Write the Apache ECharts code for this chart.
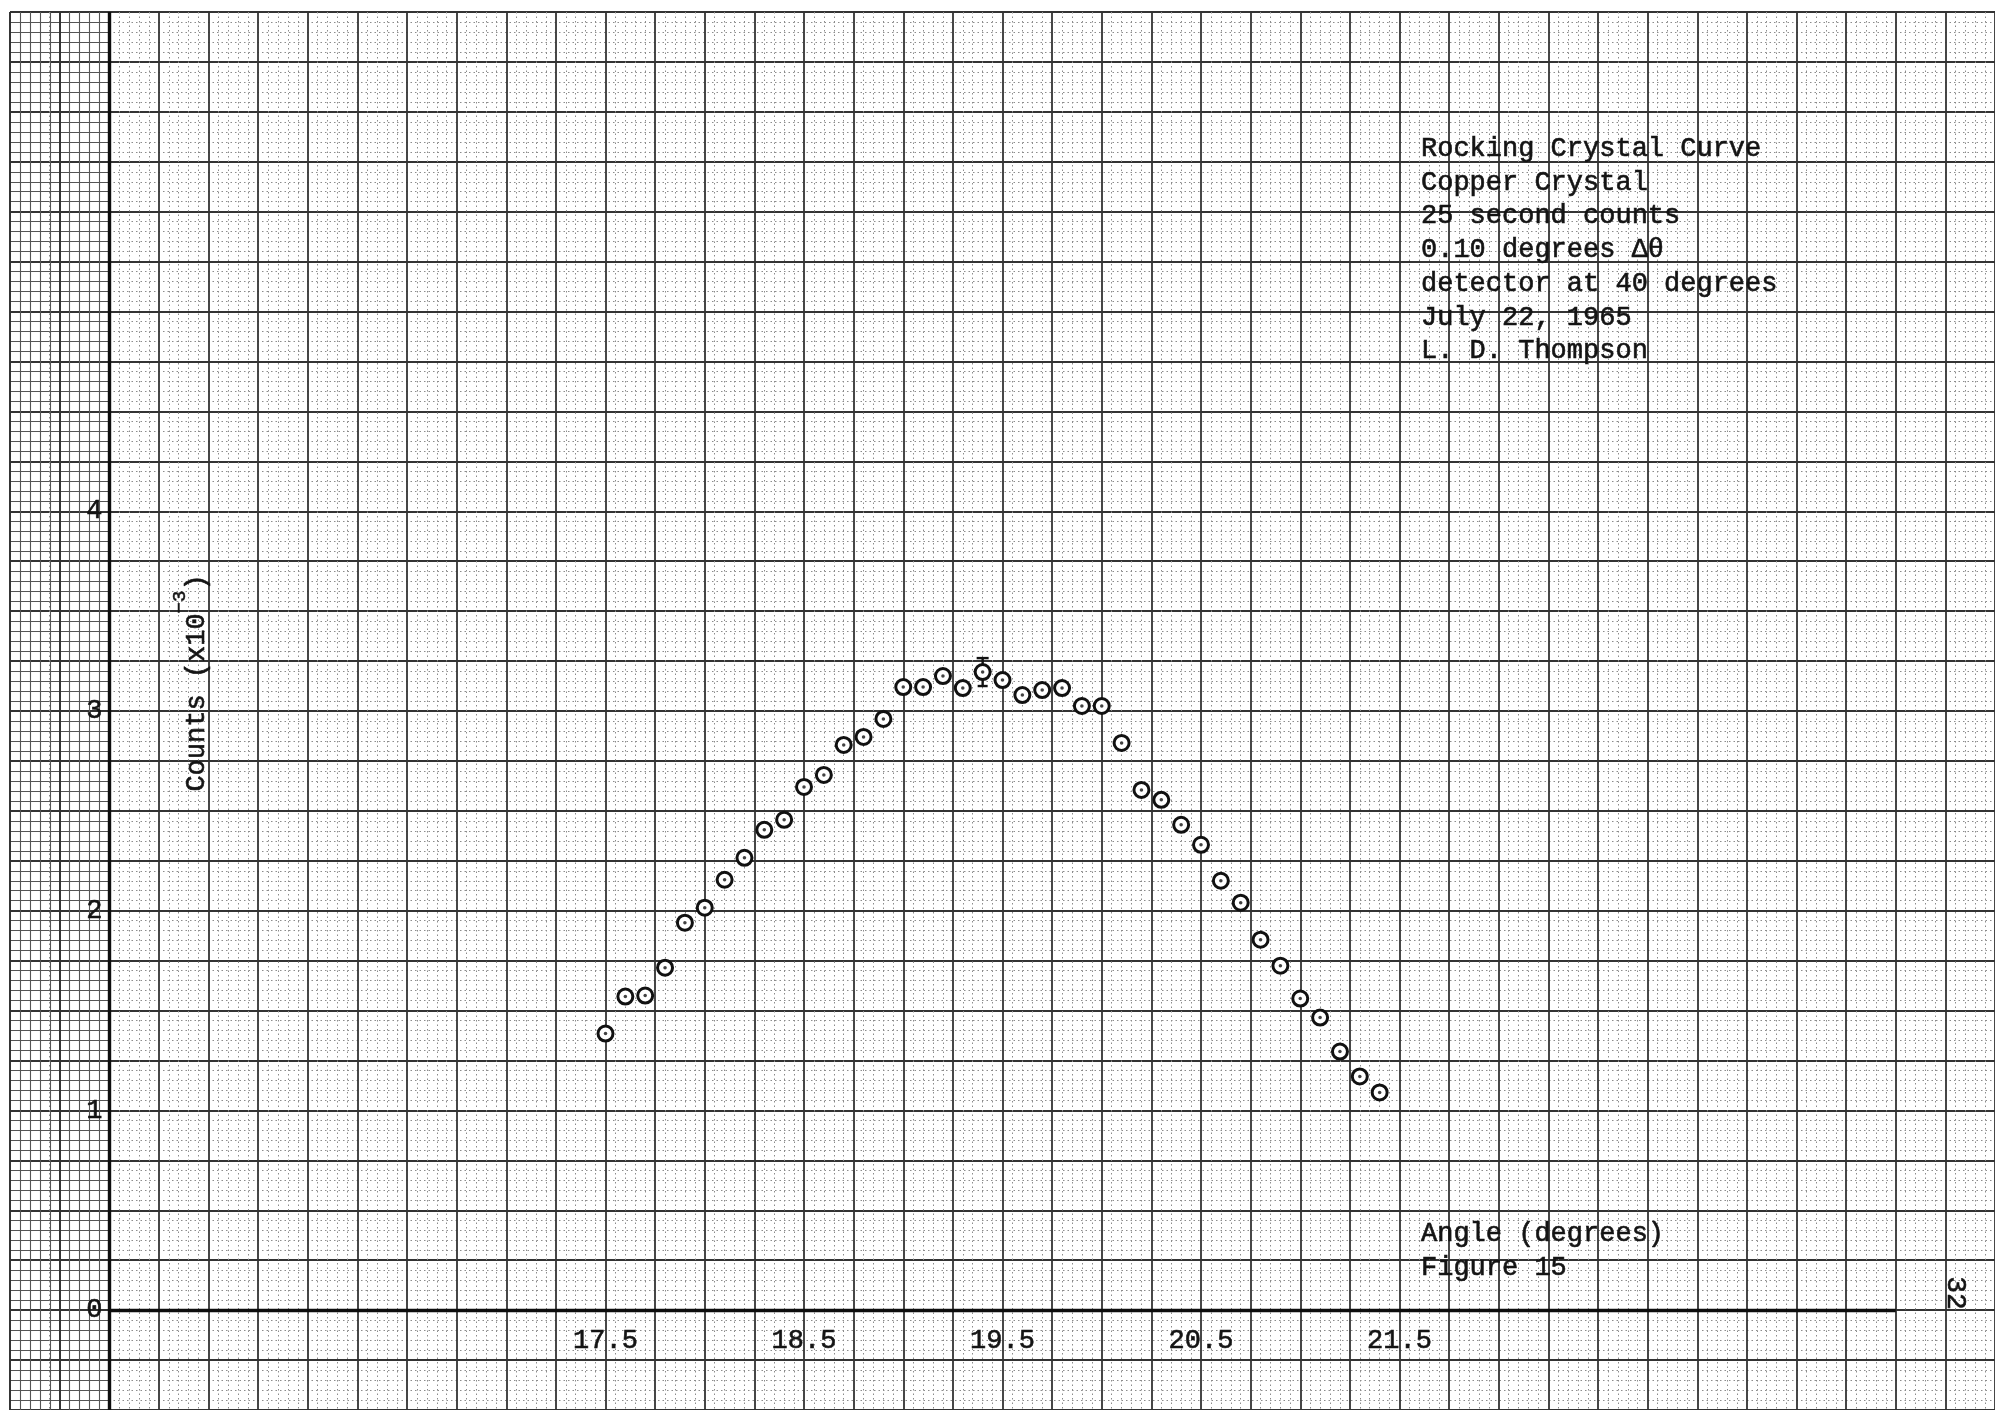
<!DOCTYPE html>
<html>
<head>
<meta charset="utf-8">
<script src="https://cdn.jsdelivr.net/npm/echarts@6/dist/echarts.min.js"></script>
<style>
  html, body { margin: 0; padding: 0; background: #ffffff; }
  #chart { width: 1995px; height: 1410px; }
</style>
</head>
<body>
<div id="chart"></div>
<script>
// ---- data ----
const angles = [17.5, 17.6, 17.7, 17.8, 17.9, 18.0, 18.1, 18.2, 18.3, 18.4,
                18.5, 18.6, 18.7, 18.8, 18.9, 19.0, 19.1, 19.2, 19.3, 19.4,
                19.5, 19.6, 19.7, 19.8, 19.9, 20.0, 20.1, 20.2, 20.3, 20.4,
                20.5, 20.6, 20.7, 20.8, 20.9, 21.0, 21.1, 21.2, 21.3, 21.4];
const counts = [1.385, 1.57, 1.575, 1.715, 1.94, 2.015, 2.155, 2.265, 2.405, 2.455,
                2.62, 2.68, 2.83, 2.87, 2.96, 3.12, 3.12, 3.175, 3.115, 3.195,
                3.155, 3.08, 3.105, 3.115, 3.025, 3.025, 2.84, 2.605, 2.555, 2.43,
                2.33, 2.15, 2.04, 1.855, 1.725, 1.56, 1.465, 1.295, 1.17, 1.09];
const errorBarAngles = [19.4];
const errorBarLow = [3.125];
const errorBarHigh = [3.265];

const xTickValues = [17.5, 18.5, 19.5, 20.5, 21.5];
const xTickLabels = ['17.5', '18.5', '19.5', '20.5', '21.5'];
const yTickValues = [0, 1, 2, 3, 4];
const yTickLabels = ['0', '1', '2', '3', '4'];

const noteLines = ['Rocking Crystal Curve', 'Copper Crystal', '25 second counts',
                   '0.10 degrees \u0394\u03B8', 'detector at 40 degrees',
                   'July 22, 1965', 'L. D. Thompson'];
const xTitleLines = ['Angle (degrees)', 'Figure 15'];
const pageNumber = '32';

// ---- axis geometry (graph paper) ----
const X_MIN = 14.5, X_MAX = 24.5, Y_MIN = -0.5, Y_MAX = 6.5;
const X_ORIGIN = 15, X_AXIS_END = 24;

const MONO = '"Liberation Mono", "DejaVu Sans Mono", monospace';
const INK = '#141414';

function labelFor(values, labels) {
  return function (v) {
    for (let i = 0; i < values.length; i++) {
      if (Math.abs(v - values[i]) < 1e-6) return labels[i];
    }
    return '';
  };
}

const majorLine = { color: '#333', width: 1.8 };
const minorLine = { color: '#8c8c8c', width: 1, type: [1.5, 3] };
const denseLine = { color: '#555', width: 1.1 };

const chart = echarts.init(document.getElementById('chart'), null, { renderer: 'canvas' });

const pts = angles.map((a, i) => [a, counts[i]]);

const axisLabelStyle = {
  fontFamily: MONO, fontSize: 27, color: INK,
  textBorderColor: INK, textBorderWidth: 0.6
};

chart.setOption({
  animation: false,
  backgroundColor: '#ffffff',
  grid: [
    { left: 10, top: 12, width: 1990, height: 1400, containLabel: false },
    { left: 10, top: 12, width: 99.5, height: 1400, containLabel: false }
  ],
  xAxis: [
    {
      type: 'value', gridIndex: 0, min: X_MIN, max: X_MAX, interval: 0.25,
      position: 'bottom', offset: -100,
      axisLine: { show: false, onZero: false },
      axisTick: { show: false },
      minorTick: { show: false, splitNumber: 5 },
      splitLine: { show: true, lineStyle: majorLine },
      minorSplitLine: { show: true, lineStyle: minorLine },
      axisLabel: Object.assign({
        show: true, margin: 17, formatter: labelFor(xTickValues, xTickLabels),
        showMinLabel: false, showMaxLabel: false
      }, axisLabelStyle)
    },
    {
      type: 'value', gridIndex: 1, min: X_MIN, max: X_ORIGIN, interval: 0.25,
      axisLine: { show: false, onZero: false }, axisTick: { show: false },
      axisLabel: { show: false },
      minorTick: { show: false, splitNumber: 5 },
      splitLine: { show: true, lineStyle: majorLine },
      minorSplitLine: { show: true, lineStyle: denseLine }
    }
  ],
  yAxis: [
    {
      type: 'value', gridIndex: 0, min: Y_MIN, max: Y_MAX, interval: 0.25,
      position: 'left', offset: -98.5,
      axisLine: { show: false, onZero: false },
      axisTick: { show: false },
      minorTick: { show: false, splitNumber: 5 },
      splitLine: { show: true, lineStyle: majorLine },
      minorSplitLine: { show: true, lineStyle: minorLine },
      axisLabel: Object.assign({
        show: true, margin: 6, formatter: labelFor(yTickValues, yTickLabels),
        showMinLabel: false, showMaxLabel: false
      }, axisLabelStyle)
    },
    {
      type: 'value', gridIndex: 1, min: Y_MIN, max: Y_MAX, interval: 0.25,
      axisLine: { show: false, onZero: false }, axisTick: { show: false },
      axisLabel: { show: false },
      minorTick: { show: false, splitNumber: 5 },
      splitLine: { show: true, lineStyle: majorLine },
      minorSplitLine: { show: true, lineStyle: denseLine }
    }
  ],
  series: [
    {
      name: 'axes', type: 'line', xAxisIndex: 0, yAxisIndex: 0, data: [], z: 3,
      markLine: {
        silent: true, symbol: ['none', 'none'], label: { show: false },
        lineStyle: { color: '#0e0e0e', width: 3.4, type: 'solid' },
        data: [
          [{ coord: [X_ORIGIN, Y_MIN] }, { coord: [X_ORIGIN, Y_MAX] }],
          [{ coord: [X_ORIGIN, 0] }, { coord: [X_AXIS_END, 0] }]
        ]
      }
    },
    {
      name: 'errorbar', type: 'custom', xAxisIndex: 0, yAxisIndex: 0, z: 4,
      data: errorBarAngles.map((a, i) => [a, errorBarLow[i], errorBarHigh[i]]),
      renderItem: function (params, api) {
        const lo = api.coord([api.value(0), api.value(1)]);
        const hi = api.coord([api.value(0), api.value(2)]);
        const st = { stroke: '#111', lineWidth: 2.4 };
        return {
          type: 'group',
          children: [
            { type: 'line', shape: { x1: lo[0], y1: lo[1], x2: hi[0], y2: hi[1] }, style: st },
            { type: 'line', shape: { x1: hi[0] - 6, y1: hi[1], x2: hi[0] + 6, y2: hi[1] }, style: st },
            { type: 'line', shape: { x1: lo[0] - 5, y1: lo[1], x2: lo[0] + 5, y2: lo[1] }, style: st }
          ]
        };
      }
    },
    {
      name: 'counts', type: 'scatter', xAxisIndex: 0, yAxisIndex: 0, z: 5,
      data: pts, symbol: 'circle', symbolSize: 15,
      itemStyle: { color: '#ffffff', borderColor: '#111', borderWidth: 3, opacity: 1 }
    },
    {
      name: 'centres', type: 'scatter', xAxisIndex: 0, yAxisIndex: 0, z: 6,
      data: pts, symbol: 'circle', symbolSize: 3.5,
      itemStyle: { color: '#111' }
    }
  ],
  graphic: [
    {
      type: 'text', x: 1421, y: 132, z: 10,
      style: {
        text: noteLines.join('\n'), fontFamily: MONO, fontSize: 27,
        lineHeight: 33.7, fill: INK, stroke: INK, lineWidth: 0.6
      }
    },
    {
      type: 'text', x: 1421, y: 1217, z: 10,
      style: {
        text: xTitleLines.join('\n'), fontFamily: MONO, fontSize: 27,
        lineHeight: 34, fill: INK, stroke: INK, lineWidth: 0.6
      }
    },
    {
      type: 'text', x: 1955, y: 1293, rotation: -Math.PI / 2, z: 10,
      style: {
        text: pageNumber, fontFamily: MONO, fontSize: 28, fill: INK,
        stroke: INK, lineWidth: 0.6,
        align: 'center', verticalAlign: 'middle'
      }
    },
    {
      type: 'text', x: 190, y: 683, rotation: Math.PI / 2, z: 10,
      style: {
        text: '{a|Counts (x10}{s|\u22123}{a|)}',
        align: 'center', verticalAlign: 'middle', fill: INK,
        rich: {
          a: { fontFamily: MONO, fontSize: 27, fill: INK, stroke: INK, lineWidth: 0.6,
               lineHeight: 40, verticalAlign: 'bottom' },
          s: { fontFamily: MONO, fontSize: 19, fill: INK, stroke: INK, lineWidth: 0.5,
               lineHeight: 40, verticalAlign: 'top' }
        }
      }
    }
  ]
});
</script>
</body>
</html>
